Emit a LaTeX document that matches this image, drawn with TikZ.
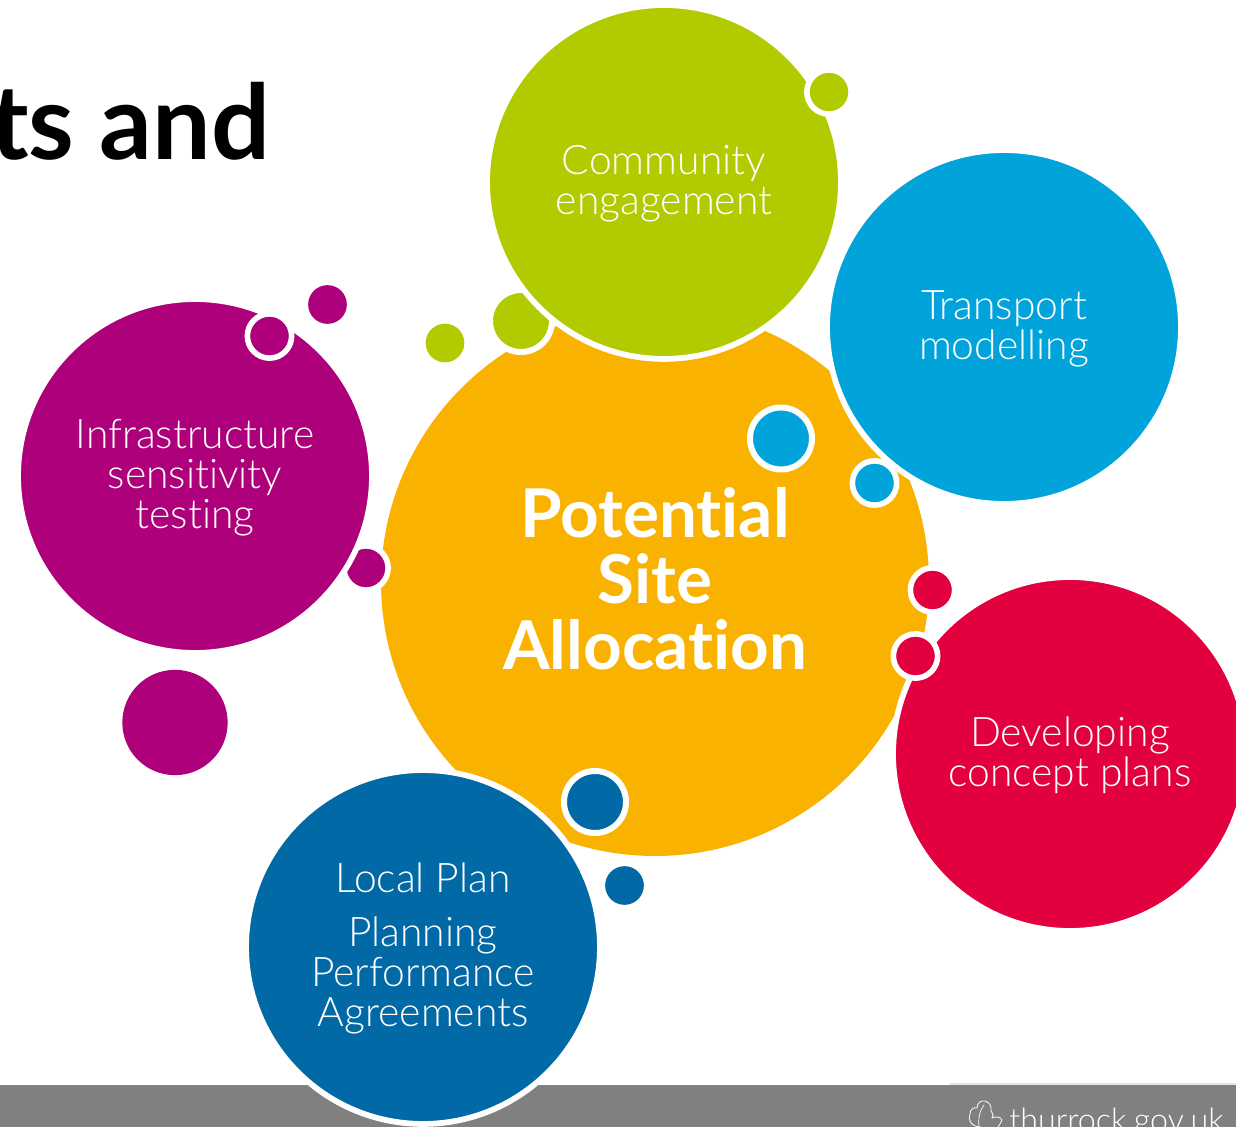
\documentclass[tikz,border=0pt]{standalone}
\usepackage{fontspec}
\setmainfont[RawFeature={-liga}]{Lato}
\newfontfamily\lightf[RawFeature={-liga}]{Lato Light}
\definecolor{cgreen}{HTML}{B2CA00}
\definecolor{cblue}{HTML}{00A3DA}
\definecolor{cred}{HTML}{E2003F}
\definecolor{cnavy}{HTML}{0069A6}
\definecolor{cpurple}{HTML}{AE007A}
\definecolor{corange}{HTML}{FAB200}
\definecolor{cband}{HTML}{808080}
\tikzset{
  x=0.75pt,y=-0.75pt,
  big/.style={circle,fill=#1,draw=white,line width=4.3pt,minimum size=265.4pt,inner sep=0pt,outer sep=0pt},
  lab/.style={text=white,align=center,inner sep=0pt,yshift=-1.2pt,font=\lightf\fontsize{30.6pt}{30pt}\selectfont},
  dotA/.style={circle,fill=#1,minimum size=29pt,inner sep=0pt,outer sep=0pt},
  ringA/.style={circle,fill=#1,draw=white,line width=4.2pt,minimum size=33.2pt,inner sep=0pt,outer sep=0pt},
  ringB/.style={circle,fill=#1,draw=white,line width=4.5pt,minimum size=46.5pt,inner sep=0pt,outer sep=0pt},
}
\begin{document}
\begin{tikzpicture}
\useasboundingbox (0,0) rectangle (1236,1127);
\clip (0,0) rectangle (1236,1127);
% footer band
\fill[cband] (0,1085) rectangle (1236,1127);
\fill[white!90!black] (950,1083) rectangle (1236,1085);
\node[anchor=base west,inner sep=0pt,text=white,font=\lightf\fontsize{24.2pt}{24.2pt}\selectfont] (site) at (1009,1131) {thurrock.gov.uk};
\draw[white,line width=0.6pt,line join=round] (981,1127) .. controls (972,1127) and (967,1120) .. (970,1114) .. controls (970,1109) and (974,1107) .. (977,1108) .. controls (977,1103) and (981,1100) .. (985,1101) .. controls (989,1102) and (992,1106) .. (991,1111) .. controls (993,1113) and (994,1116) .. (992,1118) .. controls (996,1116) and (1001,1117) .. (1002,1120) .. controls (1001,1123) and (999,1125) .. (998,1127);
\draw[white,line width=0.5pt] (979,1127) .. controls (978,1118) and (980,1110) .. (984,1105);
% title
\node[anchor=base east,inner sep=0pt,text=black,font=\bfseries\fontsize{78pt}{78pt}\selectfont] (title) at (270.5,160) {ts and};
% centre
\node[circle,fill=corange,minimum size=411pt,inner sep=0pt,outer sep=0pt,
  label={[text=white,align=center,inner sep=0pt,yshift=2.2pt,font=\bfseries\fontsize{50.5pt}{49.5pt}\selectfont]center:{Potential\\Site\\Allocation}}] (alloc) at (655,582) {};
% small bubbles under the big ones
\node[dotA=cgreen] (g2) at (445,343) {};
\node[ringB=cgreen] (g1) at (521,321) {};
\node[dotA=cpurple] (p2) at (327.5,304.5) {};
\node[ringA=cpurple] (p3) at (366,568) {};
\node[circle,fill=cpurple,minimum size=79pt,inner sep=0pt] (p4) at (175,722.5) {};
\node[dotA=cnavy] (n2) at (624.5,885.5) {};
\node[ringB=cblue] (b1) at (781,438.5) {};
\node[ringA=cred] (r1) at (932.5,590) {};
\node[ringB=cnavy] (n1) at (595,802) {};
% big bubbles
\node[big=cgreen,label={[lab]center:{Community\\engagement}}] (comm) at (664,182) {};
\node[big=cblue,label={[lab]center:{Transport\\modelling}}] (trans) at (1004,327) {};
\node[big=cred,label={[lab]center:{Developing\\concept plans}}] (dev) at (1070,754) {};
\node[big=cnavy,label={[lab]center:{Local Plan\\[11pt]Planning\\Performance\\Agreements}}] (local) at (423,947) {};
\node[big=cpurple,label={[lab]center:{Infrastructure\\sensitivity\\testing}}] (infra) at (195,476) {};
% small bubbles over the big ones
\node[ringA=cgreen] (g3) at (829,92) {};
\node[ringA=cpurple] (p1) at (269.5,336) {};
\node[ringA=cblue] (b2) at (874.5,483) {};
\node[ringA=cred] (r2) at (915.5,656) {};
\end{tikzpicture}
\end{document}
